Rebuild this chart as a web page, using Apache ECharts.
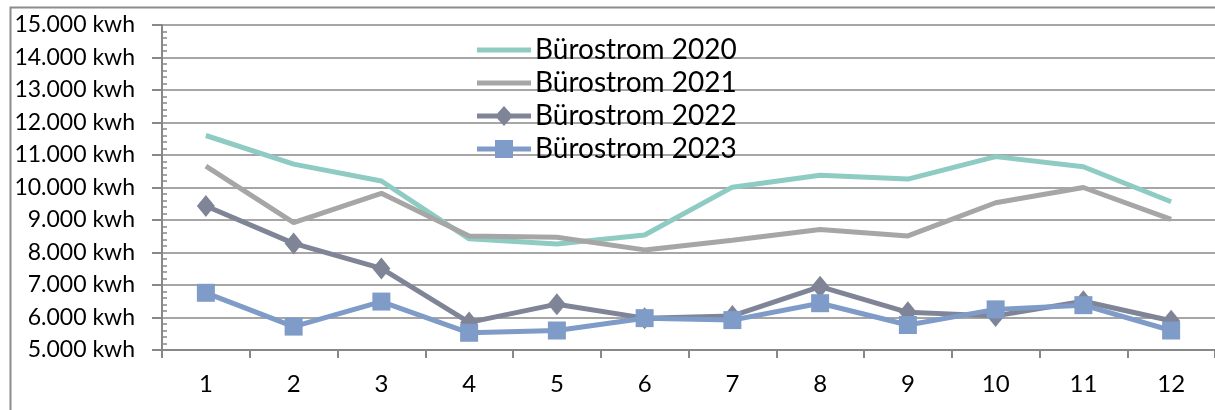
<!DOCTYPE html>
<html>
<head>
<meta charset="utf-8">
<script src="https://cdn.jsdelivr.net/npm/echarts@6/dist/echarts.min.js"></script>
<style>
html,body{margin:0;padding:0;background:#fff;}
#c{width:1215px;height:410px;}
</style>
</head>
<body>
<div id="c"></div>
<script>
const months = ['1','2','3','4','5','6','7','8','9','10','11','12'];
const names = ['Bürostrom 2020','Bürostrom 2021','Bürostrom 2022','Bürostrom 2023'];
const s2020 = [11600,10720,10200,8420,8260,8540,10010,10380,10260,10950,10640,9560];
const s2021 = [10660,8920,9820,8510,8470,8080,8380,8710,8510,9530,10000,9020];
const s2022 = [9430,8280,7510,5850,6410,5980,6050,6950,6160,6050,6500,5900];
const s2023 = [6760,5720,6490,5530,5600,5980,5920,6440,5770,6250,6380,5600];
const yTicks = {min:5000, max:15000, step:1000};

const colors = ['#8ecbc2','#a6a6a6','#7f8596','#7f9bc8'];
const font = 'Lato, "Open Sans", sans-serif';

// legend icons (56x20 box): thick line, optional marker
const box = 'M0,0M56,20';
const bar = 'M1,7.5L55,7.5L55,12.5L1,12.5Z';
const icons = [
  'path://' + box + bar,
  'path://' + box + bar,
  'path://' + box + bar + 'M28,0L37,10L28,20L19,10Z',
  'path://' + box + bar + 'M19,1L37,1L37,19L19,19Z'
];

function fmt(v){
  const s = String(v);
  return s.slice(0, s.length-3) + '.' + s.slice(-3) + ' kwh';
}

const W = 1215, GL = 162, GR = 0;
const chart = echarts.init(document.getElementById('c'), null, {renderer:'canvas'});
const option = {
  animation:false,
  backgroundColor:'#fff',
  textStyle:{fontFamily:font},
  graphic:[{
    type:'rect', left:8, top:5, z:-10,
    shape:{x:0,y:0,width:1300,height:500},
    style:{fill:'none', stroke:'#8c8c8c', lineWidth:2}
  }],
  legend:{
    orient:'vertical', left:471, top:31,
    itemWidth:56, itemHeight:20, itemGap:5,
    textStyle:{fontFamily:font, fontSize:28, color:'#000', padding:[0,0,0,-2], lineHeight:28},
    data:names.map((n,i)=>({name:n, icon:icons[i]}))
  },
  grid:{left:GL, right:GR, top:25, bottom:60, containLabel:false},
  xAxis:{
    type:'category', data:months, boundaryGap:true,
    axisLine:{lineStyle:{color:'#888', width:2}},
    axisTick:{show:true, length:8, lineStyle:{color:'#888', width:2}},
    axisLabel:{fontFamily:font, fontSize:24, color:'#000', margin:22},
    splitLine:{show:false}
  },
  yAxis:[{
    type:'value', min:yTicks.min, max:yTicks.max, interval:yTicks.step, position:'left',
    axisLine:{show:true, lineStyle:{color:'#888', width:2}},
    axisTick:{show:true, length:10, lineStyle:{color:'#888', width:2}},
    axisLabel:{fontFamily:font, fontSize:23, color:'#000', margin:27, formatter:fmt},
    splitLine:{show:true, lineStyle:{color:'#a6a6a6', width:2}}
  },{
    type:'value', min:yTicks.min, max:yTicks.max, interval:yTicks.step,
    position:'right', offset:-(W-GL-GR),
    axisLine:{show:false}, axisLabel:{show:false}, splitLine:{show:false},
    axisTick:{show:false, inside:false},
    minorTick:{show:true, splitNumber:5, length:5, lineStyle:{color:'#888', width:1.5}}
  }],
  series:[
    {name:names[0], type:'line', data:s2020, symbol:'none', color:colors[0], lineStyle:{width:5, color:colors[0]}, z:2},
    {name:names[1], type:'line', data:s2021, symbol:'none', color:colors[1], lineStyle:{width:5, color:colors[1]}, z:3},
    {name:names[2], type:'line', data:s2022, symbol:'diamond', symbolSize:[18,22], color:colors[2], itemStyle:{color:colors[2]}, lineStyle:{width:5, color:colors[2]}, z:4},
    {name:names[3], type:'line', data:s2023, symbol:'rect', symbolSize:18, color:colors[3], itemStyle:{color:colors[3]}, lineStyle:{width:5, color:colors[3]}, z:5}
  ]
};
chart.setOption(option);
</script>
</body>
</html>
